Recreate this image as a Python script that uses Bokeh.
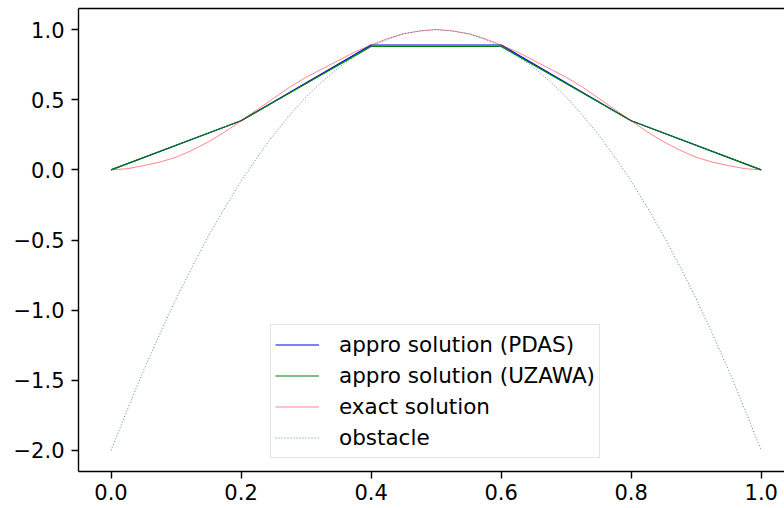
from bokeh.plotting import figure
from bokeh.models import (Range1d, LinearAxis, FixedTicker, CustomJSTickFormatter,
                          Legend, LegendItem)
from bokeh.embed import file_html
from bokeh.resources import INLINE

# Mesh nodes and the two discrete solutions
x_nodes = [0.0, 0.2, 0.4, 0.6, 0.8, 1.0]
pdas = [0.0, 0.35, 0.89, 0.89, 0.35, 0.0]
uzawa = [0.0, 0.35, 0.88, 0.88, 0.35, 0.0]

# Fine sampling for the exact solution and the obstacle
x_fine = [0.0, 0.025, 0.05, 0.075, 0.1, 0.125, 0.15, 0.175, 0.2, 0.225,
          0.25, 0.275, 0.3, 0.325, 0.35, 0.375, 0.4, 0.425, 0.45, 0.475,
          0.5, 0.525, 0.55, 0.575, 0.6, 0.625, 0.65, 0.675, 0.7, 0.725,
          0.75, 0.775, 0.8, 0.825, 0.85, 0.875, 0.9, 0.925, 0.95, 0.975, 1.0]
exact = [0.0, 0.008, 0.03, 0.055, 0.09, 0.14, 0.2, 0.27, 0.35, 0.43,
         0.51, 0.59, 0.66, 0.72, 0.78, 0.84, 0.89, 0.935, 0.97, 0.99,
         1.0, 0.99, 0.97, 0.935, 0.89, 0.84, 0.78, 0.72, 0.66, 0.59,
         0.51, 0.43, 0.35, 0.27, 0.2, 0.14, 0.09, 0.055, 0.03, 0.008, 0.0]
obstacle = [-2.0, -1.71, -1.43, -1.17, -0.92, -0.69, -0.47, -0.27, -0.08, 0.09,
            0.25, 0.39, 0.52, 0.63, 0.73, 0.81, 0.88, 0.93, 0.97, 0.99,
            1.0, 0.99, 0.97, 0.93, 0.88, 0.81, 0.73, 0.63, 0.52, 0.39,
            0.25, 0.09, -0.08, -0.27, -0.47, -0.69, -0.92, -1.17, -1.43, -1.71, -2.0]

x_ticks = [0.0, 0.2, 0.4, 0.6, 0.8, 1.0]
y_ticks = [-2.0, -1.5, -1.0, -0.5, 0.0, 0.5, 1.0]

FONT = "DejaVu Sans"
FONT_SIZE = "21px"

p = figure(width=784, height=508, output_backend="svg", toolbar_location=None,
           x_range=Range1d(-0.05, 1.0358), y_range=Range1d(-2.15, 1.15),
           min_border_left=78, min_border_right=0, min_border_top=8,
           min_border_bottom=37, x_axis_location=None, y_axis_location=None)
p.outline_line_color = None
p.xgrid.visible = False
p.ygrid.visible = False
p.background_fill_color = "white"
p.border_fill_color = "white"

fmt = CustomJSTickFormatter(code="return tick.toFixed(1).replace('-', '\u2212');")


def style_axis(ax):
    ax.axis_line_color = "black"
    ax.axis_line_width = 1.4
    ax.major_tick_line_color = "black"
    ax.major_tick_line_width = 1.4
    ax.major_tick_out = 7
    ax.major_tick_in = 0
    ax.minor_tick_line_color = None
    ax.major_label_text_font = FONT
    ax.major_label_text_font_size = FONT_SIZE
    ax.major_label_text_color = "black"


xaxis = LinearAxis(ticker=FixedTicker(ticks=x_ticks), formatter=fmt)
style_axis(xaxis)
xaxis.major_label_standoff = 5
p.add_layout(xaxis, "below")

yaxis = LinearAxis(ticker=FixedTicker(ticks=y_ticks), formatter=fmt)
style_axis(yaxis)
yaxis.major_label_standoff = 7
p.add_layout(yaxis, "left")

# top spine only (no ticks, no labels)
top = LinearAxis(ticker=FixedTicker(ticks=[]))
top.axis_line_color = "black"
top.axis_line_width = 1.4
top.major_tick_out = 0
top.major_tick_in = 0
top.minor_tick_line_color = None
top.major_label_text_font_size = "0px"
top.major_label_standoff = 0
p.add_layout(top, "above")

r_pdas = p.line(x_nodes, pdas, line_color="blue", line_width=1.2)
r_uzawa = p.line(x_nodes, uzawa, line_color="green", line_width=1.2)
r_exact = p.line(x_fine, exact, line_color="red", line_width=0.8, line_alpha=0.6)
r_obst = p.line(x_fine, obstacle, line_color="#1f77b4", line_width=1.0,
                line_alpha=0.85, line_dash="1 2")

legend = Legend(items=[
    LegendItem(label="appro solution (PDAS)", renderers=[r_pdas]),
    LegendItem(label="appro solution (UZAWA)", renderers=[r_uzawa]),
    LegendItem(label="exact solution", renderers=[r_exact]),
    LegendItem(label="obstacle", renderers=[r_obst]),
], location=(192, 13))
legend.label_text_font = FONT
legend.label_text_font_size = "21.5px"
legend.label_text_color = "black"
legend.glyph_width = 44
legend.glyph_height = 31
legend.label_height = 31
legend.label_standoff = 20
legend.padding = 4
legend.spacing = 0
legend.margin = 0
legend.border_line_color = "#cccccc"
legend.border_line_width = 1.4
legend.background_fill_color = "white"
legend.background_fill_alpha = 0.8
p.add_layout(legend)

open("out.html", "w").write(file_html(p, INLINE))
